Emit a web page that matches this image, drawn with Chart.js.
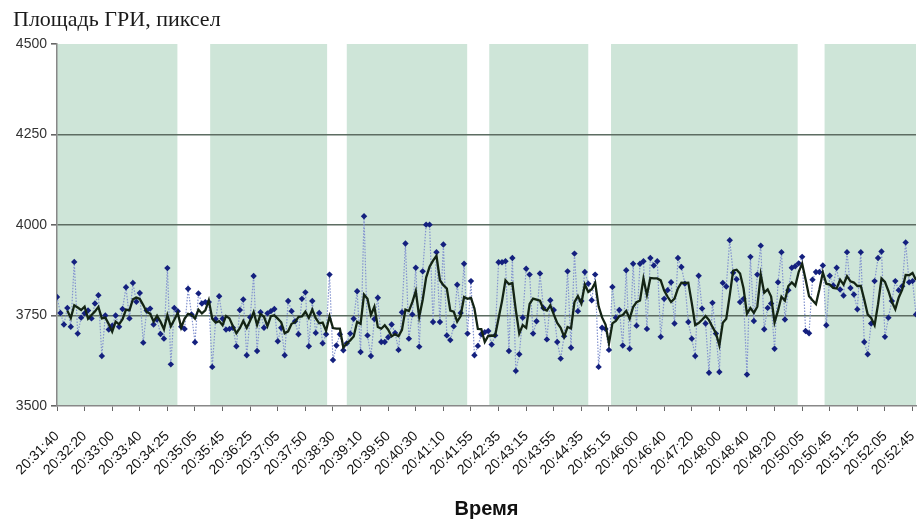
<!DOCTYPE html>
<html>
<head>
<meta charset="utf-8">
<title>Площадь ГРИ</title>
<script src="https://cdn.jsdelivr.net/npm/chart.js@4.4.1/dist/chart.umd.min.js"></script>
<style>
    body { margin: 0; background: #fff; }
</style>
</head>
<body>
<canvas id="griChart" width="920" height="521"></canvas>
<script>
// time labels shown under the axis, one every 8 samples
const tickLabels = [
    '20:31:40', '20:32:20', '20:33:00', '20:33:40', '20:34:25', '20:35:05', '20:35:45', '20:36:25',
    '20:37:05', '20:37:50', '20:38:30', '20:39:10', '20:39:50', '20:40:30', '20:41:10', '20:41:55',
    '20:42:35', '20:43:15', '20:43:55', '20:44:35', '20:45:15', '20:46:00', '20:46:40', '20:47:20',
    '20:48:00', '20:48:40', '20:49:20', '20:50:05', '20:50:45', '20:51:25', '20:52:05', '20:52:45'
];
const samplesPerTick = 8;

// GRI area, pixels (one value per sample)
const griArea = [
    3801, 3757, 3725, 3771, 3719, 3898, 3700, 3744, 3756, 3764,
    3742, 3783, 3806, 3638, 3750, 3711, 3722, 3750, 3719, 3768,
    3828, 3742, 3840, 3788, 3812, 3675, 3764, 3769, 3725, 3739,
    3699, 3686, 3881, 3615, 3771, 3762, 3719, 3713, 3824, 3753,
    3676, 3811, 3783, 3787, 3787, 3608, 3740, 3803, 3741, 3711,
    3713, 3716, 3665, 3765, 3794, 3640, 3745, 3859, 3652, 3759,
    3716, 3756, 3762, 3768, 3679, 3716, 3640, 3790, 3762, 3734,
    3698, 3796, 3814, 3665, 3790, 3702, 3757, 3673, 3698, 3863,
    3627, 3667, 3698, 3654, 3673, 3700, 3741, 3817, 3649, 4024,
    3695, 3638, 3740, 3799, 3677, 3677, 3690, 3725, 3702, 3655,
    3759, 3949, 3686, 3753, 3882, 3664, 3872, 4001, 4001, 3732,
    3925, 3732, 3946, 3695, 3682, 3720, 3835, 3757, 3893, 3700,
    3845, 3640, 3666, 3698, 3704, 3707, 3670, 3695, 3897, 3897,
    3900, 3652, 3909, 3597, 3643, 3744, 3879, 3863, 3700, 3734,
    3866, 3771, 3684, 3792, 3765, 3677, 3631, 3693, 3872, 3661,
    3921, 3762, 3790, 3870, 3838, 3792, 3863, 3608, 3716, 3713,
    3655, 3829, 3744, 3765, 3667, 3875, 3658, 3893, 3722, 3893,
    3900, 3713, 3909, 3888, 3900, 3691, 3796, 3820, 3842, 3728,
    3909, 3884, 3838, 3732, 3686, 3638, 3860, 3769, 3728, 3592,
    3785, 3700, 3594, 3840, 3830, 3958, 3868, 3850, 3787, 3796,
    3587, 3912, 3735, 3863, 3943, 3712, 3771, 3783, 3658, 3842,
    3925, 3739, 3820, 3882, 3886, 3894, 3912, 3707, 3701, 3849,
    3870, 3870, 3888, 3723, 3860, 3833, 3882, 3822, 3805, 3925,
    3826, 3808, 3767, 3925, 3677, 3643, 3728, 3845, 3909, 3927,
    3691, 3744, 3790, 3845, 3820, 3831, 3952, 3842, 3845, 3753
];

// shaded periods, in sample index units [start, end]
const bandStarts = [0, 44.4, 84, 125.3, 160.6, 222.5];
const bandEnds = [34.9, 78.3, 118.9, 154, 214.7, 249];

// moving average trendline period (as in the spreadsheet)
const maPeriod = 4;

const rawPoints = griArea.map((v, i) => ({ x: i, y: v }));
const maPoints = [];
for (let i = maPeriod - 1; i < griArea.length; i++) {
    let s = 0;
    for (let k = i - maPeriod + 1; k <= i; k++) s += griArea[k];
    maPoints.push({ x: i, y: s / maPeriod });
}

const bandsPlugin = {
    id: 'bands',
    beforeDraw(chart) {
        const { ctx, chartArea, scales } = chart;
        ctx.save();
        ctx.fillStyle = 'rgb(206,229,216)';
        bandStarts.forEach((start, i) => {
            const x1 = scales.x.getPixelForValue(start);
            const x2 = scales.x.getPixelForValue(bandEnds[i]);
            ctx.fillRect(x1, chartArea.top, x2 - x1, chartArea.bottom - chartArea.top);
        });
        ctx.restore();
    }
};

const ctx = document.getElementById('griChart').getContext('2d');
const griChart = new Chart(ctx, {
    type: 'line',
    data: {
        datasets: [{
            label: 'Скользящее среднее',
            data: maPoints,
            borderColor: '#142414',
            borderWidth: 2.3,
            pointRadius: 0,
            tension: 0
        }, {
            label: 'Площадь ГРИ',
            data: rawPoints,
            borderColor: '#8393cf',
            borderWidth: 1.2,
            borderDash: [1.5, 1.5],
            pointStyle: 'rectRot',
            pointRadius: 3.2,
            pointBackgroundColor: '#14207e',
            pointBorderColor: '#14207e',
            pointBorderWidth: 0,
            tension: 0
        }]
    },
    options: {
        responsive: false,
        animation: false,
        events: [],
        layout: {
            padding: { left: 13, right: 1, top: 0, bottom: 0 }
        },
        plugins: {
            legend: { display: false },
            tooltip: { enabled: false },
            title: {
                display: true,
                text: 'Площадь ГРИ, пиксел',
                align: 'start',
                color: '#1a1a1a',
                font: { family: 'Liberation Serif', size: 22, weight: 'normal' },
                padding: { top: 7, bottom: 10.6 }
            }
        },
        scales: {
            x: {
                type: 'linear',
                min: 0,
                max: griArea.length - 1,
                afterBuildTicks: function(scale) {
                    scale.ticks = tickLabels.map((_, i) => ({ value: i * samplesPerTick }));
                },
                afterFit: function(scale) {
                    scale.height = 115;
                    scale.paddingLeft = 0;
                    scale.paddingRight = 0;
                    scale.getPadding = function() {
                        return { left: 0, top: 0, right: 0, bottom: 0 };
                    };
                },
                grid: {
                    drawOnChartArea: false,
                    drawTicks: true,
                    tickLength: 5,
                    tickColor: '#666'
                },
                border: { display: true, color: '#888', width: 1.5 },
                ticks: {
                    autoSkip: false,
                    maxRotation: 45,
                    minRotation: 45,
                    padding: 17,
                    color: '#111',
                    font: { family: 'Liberation Sans', size: 14 },
                    callback: function(value) {
                        return tickLabels[Math.round(value / samplesPerTick)];
                    }
                },
                title: {
                    display: true,
                    text: 'Время',
                    color: '#111',
                    font: { family: 'Liberation Sans', size: 20, weight: 'bold' },
                    padding: { top: 0, bottom: 0 }
                }
            },
            y: {
                min: 3500,
                max: 4500,
                afterFit: function(scale) {
                    scale.width = 44;
                },
                grid: {
                    drawTicks: true,
                    tickLength: 6,
                    tickColor: '#666',
                    lineWidth: 1.6,
                    color: function(c) {
                        const v = c.tick && c.tick.value;
                        return (v > 3500 && v < 4500) ? '#5d6d62' : 'rgba(0,0,0,0)';
                    }
                },
                border: { display: true, color: '#888', width: 1.5 },
                ticks: {
                    stepSize: 250,
                    padding: 4,
                    color: '#333',
                    font: { family: 'Liberation Sans', size: 14 },
                    callback: function(value) {
                        return String(value);
                    }
                }
            }
        }
    },
    plugins: [bandsPlugin]
});
</script>
</body>
</html>
